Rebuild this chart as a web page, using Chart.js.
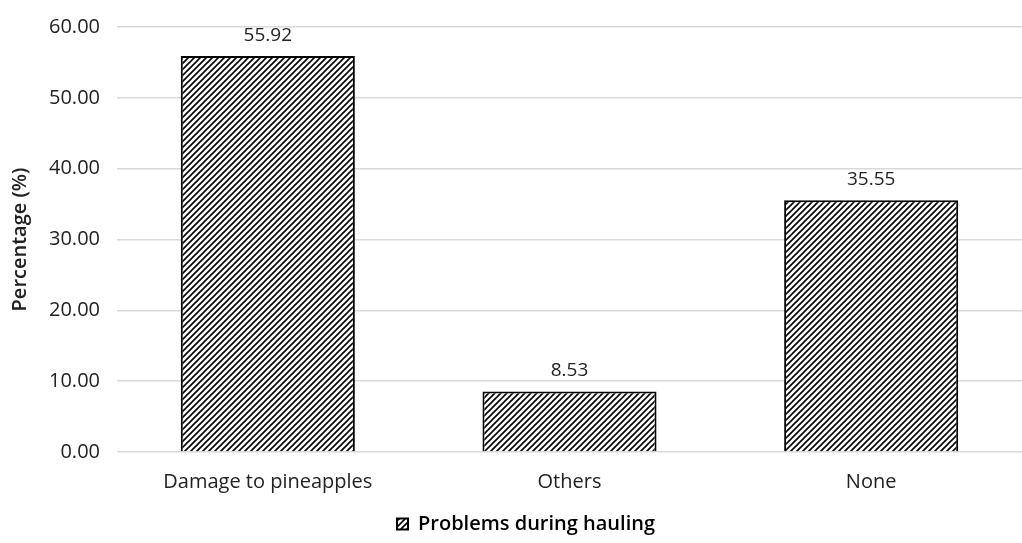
<!DOCTYPE html>
<html>
<head>
<meta charset="utf-8">
<script src="https://cdn.jsdelivr.net/npm/chart.js@4"></script>
<style>
  html, body { margin: 0; padding: 0; background: #fff; }
  #wrap { width: 1022px; height: 543px; overflow: hidden; }
</style>
</head>
<body>
<div id="wrap"><canvas id="haulChart" width="1022" height="543"></canvas></div>
<script>
const categories = ['Damage to pineapples', 'Others', 'None'];
const percentages = [55.92, 8.53, 35.55];
const seriesName = 'Problems during hauling';
const yTicks = [0, 10, 20, 30, 40, 50, 60];

// diagonal hatch like the office "wide upward diagonal" fill
function makeHatch() {
    const c = document.createElement('canvas');
    c.width = 6; c.height = 6;
    const g = c.getContext('2d');
    g.fillStyle = '#fff';
    g.fillRect(0, 0, 6, 6);
    g.strokeStyle = '#000';
    g.lineWidth = 1.6;
    g.beginPath();
    g.moveTo(0, 6); g.lineTo(6, 0);
    g.moveTo(-1, 1); g.lineTo(1, -1);
    g.moveTo(5, 7); g.lineTo(7, 5);
    g.stroke();
    return g.createPattern(c, 'repeat');
}
const hatch = makeHatch();

const valueLabels = {
    id: 'valueLabels',
    afterDatasetsDraw(chart) {
        const ctx = chart.ctx;
        const meta = chart.getDatasetMeta(0);
        ctx.save();
        ctx.font = '19px "Open Sans"';
        ctx.fillStyle = '#222';
        ctx.textAlign = 'center';
        ctx.textBaseline = 'bottom';
        meta.data.forEach((bar, i) => {
            ctx.fillText(percentages[i].toFixed(2), bar.x, bar.y - 11);
        });
        ctx.restore();
    }
};

Chart.defaults.font.family = '"Open Sans"';
Chart.defaults.color = '#222';

const chart = new Chart(document.getElementById('haulChart'), {
    type: 'bar',
    data: {
        labels: categories,
        datasets: [{
            label: seriesName,
            data: percentages,
            backgroundColor: hatch,
            borderColor: '#000',
            borderWidth: 2,
            barPercentage: 0.577,
            categoryPercentage: 1.0
        }]
    },
    options: {
        responsive: false,
        animation: false,
        layout: { padding: { top: 0, right: -22, left: 8, bottom: -1 } },
        scales: {
            x: {
                grid: { display: false },
                border: { display: false },
                ticks: { font: { size: 20 }, padding: 10 }
            },
            y: {
                min: 0,
                max: 60,
                afterBuildTicks: axis => { axis.ticks = yTicks.map(v => ({ value: v })); },
                grid: { color: '#d9d9d9', lineWidth: 1.5, drawTicks: false },
                border: { display: false },
                ticks: {
                    font: { size: 20, lineHeight: 1.0 },
                    padding: 17,
                    callback: v => Number(v).toFixed(2)
                },
                title: {
                    display: true,
                    text: 'Percentage (%)',
                    font: { size: 20, weight: 600 },
                    padding: { top: 0, bottom: 0 }
                }
            }
        },
        plugins: {
            legend: {
                position: 'bottom',
                labels: {
                    font: { size: 20, weight: 600 },
                    color: '#000',
                    boxWidth: 11,
                    boxHeight: 11,
                    padding: 10
                }
            },
            tooltip: { enabled: false }
        }
    },
    plugins: [valueLabels]
});
</script>
</body>
</html>
